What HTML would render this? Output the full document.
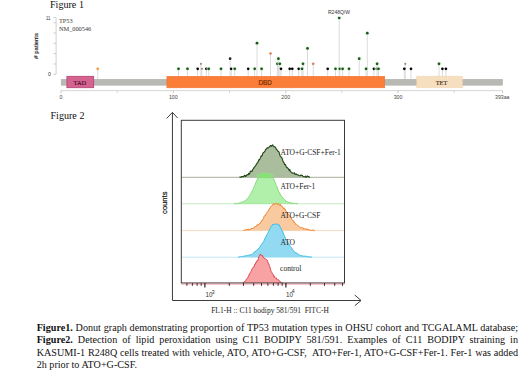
<!DOCTYPE html>
<html><head><meta charset="utf-8"><style>
html,body{margin:0;padding:0;background:#fff;}
body{width:520px;height:371px;overflow:hidden;position:relative;}
.fig{position:absolute;font-family:"Liberation Serif",serif;font-size:10.1px;color:#111;line-height:1;white-space:nowrap;}
svg{position:absolute;left:0;top:0;}
.cap{position:absolute;left:36.7px;top:322.4px;width:481.3px;font-family:"Liberation Serif",serif;font-size:10.15px;line-height:12.1px;color:#111;text-align:justify;}
.cap p{margin:0;text-align:justify;text-align-last:justify;white-space:normal;}
.cap p.last{text-align-last:left;}
b{font-weight:bold;}
</style></head><body>
<div class="fig" style="left:50.0px;top:0.4px;transform:scaleY(1.06);transform-origin:0 0;">Figure 1</div>
<div class="fig" style="left:50.5px;top:111.0px;">Figure 2</div>
<svg width="520" height="371" viewBox="0 0 520 371">
<line x1="56.1" y1="17.5" x2="56.1" y2="74.3" stroke="#c4c4c4" stroke-width="0.8"/>
<line x1="53.3" y1="74.30" x2="56.1" y2="74.30" stroke="#c4c4c4" stroke-width="0.8"/>
<line x1="53.3" y1="63.97" x2="56.1" y2="63.97" stroke="#c4c4c4" stroke-width="0.8"/>
<line x1="53.3" y1="53.64" x2="56.1" y2="53.64" stroke="#c4c4c4" stroke-width="0.8"/>
<line x1="53.3" y1="43.32" x2="56.1" y2="43.32" stroke="#c4c4c4" stroke-width="0.8"/>
<line x1="53.3" y1="32.99" x2="56.1" y2="32.99" stroke="#c4c4c4" stroke-width="0.8"/>
<line x1="53.3" y1="22.66" x2="56.1" y2="22.66" stroke="#c4c4c4" stroke-width="0.8"/>
<line x1="53.3" y1="17.50" x2="56.1" y2="17.50" stroke="#c4c4c4" stroke-width="0.8"/>
<text transform="translate(50.4,19.9) scale(0.8,1)" font-family="Liberation Sans" font-size="5.4" text-anchor="end" fill="#333">11</text>
<text x="50.9" y="76.1" font-family="Liberation Sans" font-size="5.2" text-anchor="end" fill="#333">0</text>
<text transform="translate(37.8,58.7) rotate(-90)" font-family="Liberation Sans" font-size="5.9" fill="#222" stroke="#222" stroke-width="0.15"># patients</text>
<text x="59.0" y="23.0" font-family="Liberation Serif" font-size="6.3" fill="#383838">TP53</text>
<text x="59.0" y="30.8" font-family="Liberation Serif" font-size="6.3" fill="#383838">NM_000546</text>
<line x1="97.7" y1="68.8" x2="97.7" y2="79.3" stroke="#d4d4d4" stroke-width="0.85"/>
<line x1="178.5" y1="68.8" x2="178.5" y2="79.3" stroke="#d4d4d4" stroke-width="0.85"/>
<line x1="187.5" y1="68.8" x2="187.5" y2="79.3" stroke="#d4d4d4" stroke-width="0.85"/>
<line x1="197.7" y1="68.8" x2="197.7" y2="79.3" stroke="#d4d4d4" stroke-width="0.85"/>
<line x1="201.9" y1="68.8" x2="201.9" y2="79.3" stroke="#d4d4d4" stroke-width="0.85"/>
<line x1="200.9" y1="63.8" x2="200.9" y2="79.3" stroke="#d4d4d4" stroke-width="0.85"/>
<line x1="206.3" y1="68.8" x2="206.3" y2="79.3" stroke="#d4d4d4" stroke-width="0.85"/>
<line x1="208.7" y1="68.8" x2="208.7" y2="79.3" stroke="#d4d4d4" stroke-width="0.85"/>
<line x1="221.0" y1="68.8" x2="221.0" y2="79.3" stroke="#d4d4d4" stroke-width="0.85"/>
<line x1="231.2" y1="68.8" x2="231.2" y2="79.3" stroke="#d4d4d4" stroke-width="0.85"/>
<line x1="230.1" y1="58.7" x2="230.1" y2="79.3" stroke="#d4d4d4" stroke-width="0.85"/>
<line x1="234.7" y1="68.8" x2="234.7" y2="79.3" stroke="#d4d4d4" stroke-width="0.85"/>
<line x1="248.2" y1="68.8" x2="248.2" y2="79.3" stroke="#d4d4d4" stroke-width="0.85"/>
<line x1="254.7" y1="68.8" x2="254.7" y2="79.3" stroke="#d4d4d4" stroke-width="0.85"/>
<line x1="257.0" y1="43.2" x2="257.0" y2="79.3" stroke="#d4d4d4" stroke-width="0.85"/>
<line x1="261.6" y1="68.8" x2="261.6" y2="79.3" stroke="#d4d4d4" stroke-width="0.85"/>
<line x1="270.5" y1="53.5" x2="270.5" y2="79.3" stroke="#d4d4d4" stroke-width="0.85"/>
<line x1="278.4" y1="58.7" x2="278.4" y2="79.3" stroke="#d4d4d4" stroke-width="0.85"/>
<line x1="277.4" y1="63.8" x2="277.4" y2="79.3" stroke="#d4d4d4" stroke-width="0.85"/>
<line x1="279.8" y1="63.8" x2="279.8" y2="79.3" stroke="#d4d4d4" stroke-width="0.85"/>
<line x1="281.0" y1="68.8" x2="281.0" y2="79.3" stroke="#d4d4d4" stroke-width="0.85"/>
<line x1="289.7" y1="68.8" x2="289.7" y2="79.3" stroke="#d4d4d4" stroke-width="0.85"/>
<line x1="292.3" y1="68.8" x2="292.3" y2="79.3" stroke="#d4d4d4" stroke-width="0.85"/>
<line x1="298.7" y1="68.8" x2="298.7" y2="79.3" stroke="#d4d4d4" stroke-width="0.85"/>
<line x1="302.0" y1="68.8" x2="302.0" y2="79.3" stroke="#d4d4d4" stroke-width="0.85"/>
<line x1="303.0" y1="63.8" x2="303.0" y2="79.3" stroke="#d4d4d4" stroke-width="0.85"/>
<line x1="307.5" y1="48.4" x2="307.5" y2="79.3" stroke="#d4d4d4" stroke-width="0.85"/>
<line x1="313.2" y1="63.8" x2="313.2" y2="79.3" stroke="#d4d4d4" stroke-width="0.85"/>
<line x1="327.7" y1="68.8" x2="327.7" y2="79.3" stroke="#d4d4d4" stroke-width="0.85"/>
<line x1="335.5" y1="68.8" x2="335.5" y2="79.3" stroke="#d4d4d4" stroke-width="0.85"/>
<line x1="339.2" y1="18.0" x2="339.2" y2="79.3" stroke="#d4d4d4" stroke-width="0.85"/>
<line x1="339.8" y1="68.8" x2="339.8" y2="79.3" stroke="#d4d4d4" stroke-width="0.85"/>
<line x1="342.6" y1="68.8" x2="342.6" y2="79.3" stroke="#d4d4d4" stroke-width="0.85"/>
<line x1="349.0" y1="68.8" x2="349.0" y2="79.3" stroke="#d4d4d4" stroke-width="0.85"/>
<line x1="359.2" y1="58.7" x2="359.2" y2="79.3" stroke="#d4d4d4" stroke-width="0.85"/>
<line x1="366.1" y1="68.8" x2="366.1" y2="79.3" stroke="#d4d4d4" stroke-width="0.85"/>
<line x1="367.3" y1="33.2" x2="367.3" y2="79.3" stroke="#d4d4d4" stroke-width="0.85"/>
<line x1="373.9" y1="68.8" x2="373.9" y2="79.3" stroke="#d4d4d4" stroke-width="0.85"/>
<line x1="377.1" y1="63.8" x2="377.1" y2="79.3" stroke="#d4d4d4" stroke-width="0.85"/>
<line x1="378.5" y1="68.8" x2="378.5" y2="79.3" stroke="#d4d4d4" stroke-width="0.85"/>
<line x1="404.3" y1="68.8" x2="404.3" y2="79.3" stroke="#d4d4d4" stroke-width="0.85"/>
<line x1="405.3" y1="63.8" x2="405.3" y2="79.3" stroke="#d4d4d4" stroke-width="0.85"/>
<line x1="411.0" y1="68.8" x2="411.0" y2="79.3" stroke="#d4d4d4" stroke-width="0.85"/>
<line x1="439.0" y1="63.8" x2="439.0" y2="79.3" stroke="#d4d4d4" stroke-width="0.85"/>
<line x1="442.4" y1="68.8" x2="442.4" y2="79.3" stroke="#d4d4d4" stroke-width="0.85"/>
<line x1="445.9" y1="68.8" x2="445.9" y2="79.3" stroke="#d4d4d4" stroke-width="0.85"/>
<rect x="61.2" y="79.3" width="441.3" height="5.9" fill="#b9b9b4" stroke="#b1b1ab" stroke-width="0.6"/>
<rect x="66.9" y="76.3" width="26.8" height="11.4" fill="#d5628f" stroke="#b04474" stroke-width="0.8"/>
<text x="79.9" y="84.9" font-family="Liberation Serif" font-size="6.4" text-anchor="middle" fill="#3e0c28" stroke="#3e0c28" stroke-width="0.12">TAD</text>
<rect x="166.9" y="76.3" width="217.8" height="11.5" fill="#fa7e38" stroke="#ee7434" stroke-width="0.6"/>
<text x="265.2" y="84.8" font-family="Liberation Sans" font-size="6.3" text-anchor="middle" fill="#7a2a00" stroke="#7a2a00" stroke-width="0.2">DBD</text>
<rect x="416.6" y="76.3" width="46" height="11.4" fill="#f6dfbf" stroke="#efcc9e" stroke-width="0.7" stroke-dasharray="1.2,0.9"/>
<text x="441.5" y="84.9" font-family="Liberation Serif" font-size="6.4" text-anchor="middle" fill="#3a2810" stroke="#3a2810" stroke-width="0.12">TET</text>
<line x1="60.6" y1="90.6" x2="502.6" y2="90.6" stroke="#cbcbcb" stroke-width="0.8"/>
<line x1="61.0" y1="90.6" x2="61.0" y2="93.2" stroke="#bdbdbd" stroke-width="0.8"/>
<line x1="173.3" y1="90.6" x2="173.3" y2="93.2" stroke="#bdbdbd" stroke-width="0.8"/>
<line x1="285.7" y1="90.6" x2="285.7" y2="93.2" stroke="#bdbdbd" stroke-width="0.8"/>
<line x1="398.0" y1="90.6" x2="398.0" y2="93.2" stroke="#bdbdbd" stroke-width="0.8"/>
<line x1="502.5" y1="90.6" x2="502.5" y2="93.2" stroke="#bdbdbd" stroke-width="0.8"/>
<line x1="117.2" y1="90.6" x2="117.2" y2="93" stroke="#c8c8c8" stroke-width="0.7"/>
<line x1="229.5" y1="90.6" x2="229.5" y2="93" stroke="#c8c8c8" stroke-width="0.7"/>
<line x1="341.8" y1="90.6" x2="341.8" y2="93" stroke="#c8c8c8" stroke-width="0.7"/>
<line x1="454.2" y1="90.6" x2="454.2" y2="93" stroke="#c8c8c8" stroke-width="0.7"/>
<text x="61.0" y="99.0" font-family="Liberation Sans" font-size="5.2" text-anchor="middle" fill="#444">0</text>
<text x="173.3" y="99.0" font-family="Liberation Sans" font-size="5.2" text-anchor="middle" fill="#444">100</text>
<text x="285.7" y="99.0" font-family="Liberation Sans" font-size="5.2" text-anchor="middle" fill="#444">200</text>
<text x="398.0" y="99.0" font-family="Liberation Sans" font-size="5.2" text-anchor="middle" fill="#444">300</text>
<text x="495.0" y="99.0" font-family="Liberation Sans" font-size="5.2" fill="#444">393aa</text>
<circle cx="97.7" cy="68.8" r="1.35" fill="#e8a030"/>
<circle cx="178.5" cy="68.8" r="2.4" fill="#dff5df" opacity="0.7"/>
<circle cx="178.5" cy="68.8" r="1.35" fill="#1b561b"/>
<circle cx="187.5" cy="68.8" r="2.4" fill="#dff5df" opacity="0.7"/>
<circle cx="187.5" cy="68.8" r="1.35" fill="#1b561b"/>
<circle cx="197.7" cy="68.8" r="1.35" fill="#050505"/>
<circle cx="201.9" cy="68.8" r="1.1" fill="#a88a6a"/>
<circle cx="200.9" cy="63.8" r="1.1" fill="#a88a6a"/>
<circle cx="206.3" cy="68.8" r="1.35" fill="#050505"/>
<circle cx="208.7" cy="68.8" r="2.4" fill="#dff5df" opacity="0.7"/>
<circle cx="208.7" cy="68.8" r="1.35" fill="#1b561b"/>
<circle cx="221.0" cy="68.8" r="2.4" fill="#dff5df" opacity="0.7"/>
<circle cx="221.0" cy="68.8" r="1.35" fill="#1b561b"/>
<circle cx="231.2" cy="68.8" r="1.35" fill="#050505"/>
<circle cx="230.1" cy="58.7" r="1.35" fill="#1a2a1a"/>
<circle cx="234.7" cy="68.8" r="2.4" fill="#dff5df" opacity="0.7"/>
<circle cx="234.7" cy="68.8" r="1.35" fill="#1b561b"/>
<circle cx="248.2" cy="68.8" r="1.35" fill="#050505"/>
<circle cx="254.7" cy="68.8" r="2.4" fill="#dff5df" opacity="0.7"/>
<circle cx="254.7" cy="68.8" r="1.35" fill="#1b561b"/>
<circle cx="257.0" cy="43.2" r="2.4" fill="#dff5df" opacity="0.7"/>
<circle cx="257.0" cy="43.2" r="1.35" fill="#1b561b"/>
<circle cx="261.6" cy="68.8" r="2.4" fill="#dff5df" opacity="0.7"/>
<circle cx="261.6" cy="68.8" r="1.35" fill="#1b561b"/>
<circle cx="270.5" cy="53.5" r="1.35" fill="#e0825a"/>
<circle cx="278.4" cy="58.7" r="2.4" fill="#dff5df" opacity="0.7"/>
<circle cx="278.4" cy="58.7" r="1.35" fill="#1b561b"/>
<circle cx="277.4" cy="63.8" r="2.4" fill="#dff5df" opacity="0.7"/>
<circle cx="277.4" cy="63.8" r="1.35" fill="#1b561b"/>
<circle cx="279.8" cy="63.8" r="2.4" fill="#dff5df" opacity="0.7"/>
<circle cx="279.8" cy="63.8" r="1.35" fill="#1b561b"/>
<circle cx="281.0" cy="68.8" r="1.35" fill="#050505"/>
<circle cx="289.7" cy="68.8" r="1.35" fill="#050505"/>
<circle cx="292.3" cy="68.8" r="1.35" fill="#050505"/>
<circle cx="298.7" cy="68.8" r="1.35" fill="#050505"/>
<circle cx="302.0" cy="68.8" r="2.4" fill="#dff5df" opacity="0.7"/>
<circle cx="302.0" cy="68.8" r="1.35" fill="#1b561b"/>
<circle cx="303.0" cy="63.8" r="2.4" fill="#dff5df" opacity="0.7"/>
<circle cx="303.0" cy="63.8" r="1.35" fill="#1b561b"/>
<circle cx="307.5" cy="48.4" r="2.4" fill="#dff5df" opacity="0.7"/>
<circle cx="307.5" cy="48.4" r="1.35" fill="#1b561b"/>
<circle cx="313.2" cy="63.8" r="1.35" fill="#e0825a"/>
<circle cx="327.7" cy="68.8" r="1.35" fill="#050505"/>
<circle cx="335.5" cy="68.8" r="2.4" fill="#dff5df" opacity="0.7"/>
<circle cx="335.5" cy="68.8" r="1.35" fill="#1b561b"/>
<circle cx="339.2" cy="18.0" r="2.4" fill="#dff5df" opacity="0.7"/>
<circle cx="339.2" cy="18.0" r="1.35" fill="#1b561b"/>
<circle cx="339.8" cy="68.8" r="2.4" fill="#dff5df" opacity="0.7"/>
<circle cx="339.8" cy="68.8" r="1.35" fill="#1b561b"/>
<circle cx="342.6" cy="68.8" r="2.4" fill="#dff5df" opacity="0.7"/>
<circle cx="342.6" cy="68.8" r="1.35" fill="#1b561b"/>
<circle cx="349.0" cy="68.8" r="2.4" fill="#dff5df" opacity="0.7"/>
<circle cx="349.0" cy="68.8" r="1.35" fill="#1b561b"/>
<circle cx="359.2" cy="58.7" r="2.4" fill="#dff5df" opacity="0.7"/>
<circle cx="359.2" cy="58.7" r="1.35" fill="#1b561b"/>
<circle cx="366.1" cy="68.8" r="2.4" fill="#dff5df" opacity="0.7"/>
<circle cx="366.1" cy="68.8" r="1.35" fill="#1b561b"/>
<circle cx="367.3" cy="33.2" r="2.4" fill="#dff5df" opacity="0.7"/>
<circle cx="367.3" cy="33.2" r="1.35" fill="#1b561b"/>
<circle cx="373.9" cy="68.8" r="1.35" fill="#050505"/>
<circle cx="376.8" cy="68.8" r="2.4" fill="#dff5df" opacity="0.7"/>
<circle cx="376.8" cy="68.8" r="1.35" fill="#1b561b"/>
<circle cx="378.5" cy="68.8" r="2.4" fill="#dff5df" opacity="0.7"/>
<circle cx="378.5" cy="68.8" r="1.35" fill="#1b561b"/>
<circle cx="377.1" cy="63.8" r="2.4" fill="#dff5df" opacity="0.7"/>
<circle cx="377.1" cy="63.8" r="1.35" fill="#1b561b"/>
<circle cx="404.3" cy="68.8" r="1.35" fill="#050505"/>
<circle cx="405.3" cy="63.8" r="1.1" fill="#a88a6a"/>
<circle cx="411.0" cy="68.8" r="1.35" fill="#050505"/>
<circle cx="439.0" cy="63.8" r="2.4" fill="#dff5df" opacity="0.7"/>
<circle cx="439.0" cy="63.8" r="1.35" fill="#1b561b"/>
<circle cx="442.4" cy="68.8" r="1.35" fill="#050505"/>
<circle cx="445.9" cy="68.8" r="1.35" fill="#050505"/>
<text x="328" y="13.8" font-family="Liberation Sans" font-size="5" fill="#333">R248Q/W</text>
<line x1="181.3" y1="177.3" x2="344.3" y2="177.3" stroke="#a9b19c" stroke-width="1"/>
<path d="M239.5,177.3 L240.0,177.0 L240.5,177.4 L241.0,177.3 L241.5,176.5 L242.0,176.8 L242.6,176.5 L243.1,176.7 L243.7,176.8 L244.3,175.4 L244.8,175.2 L245.4,176.4 L246.0,175.5 L246.5,175.9 L247.1,174.5 L247.6,174.7 L248.2,174.7 L248.7,173.3 L249.3,174.1 L249.8,173.5 L250.3,171.5 L250.9,171.0 L251.4,171.4 L252.0,171.5 L252.5,170.1 L253.0,169.1 L253.5,168.7 L254.1,167.3 L254.6,166.8 L255.1,166.5 L255.6,165.8 L256.2,164.6 L256.7,163.9 L257.2,163.1 L257.8,162.5 L258.3,161.1 L258.9,159.6 L259.5,159.9 L260.1,158.4 L260.6,157.5 L261.2,155.7 L261.7,156.2 L262.3,155.2 L262.8,153.1 L263.4,152.6 L263.9,152.5 L264.5,151.6 L265.0,151.1 L265.6,149.4 L266.2,149.3 L266.7,148.7 L267.2,147.7 L267.8,147.8 L268.3,148.0 L268.8,147.6 L269.3,146.7 L269.9,146.6 L270.4,145.5 L271.0,145.6 L271.6,146.3 L272.1,145.5 L272.7,144.8 L273.2,145.9 L273.8,146.5 L274.3,146.9 L274.9,146.8 L275.4,147.3 L275.9,148.2 L276.5,149.5 L277.0,149.8 L277.6,150.4 L278.1,151.4 L278.7,151.6 L279.2,152.7 L279.8,154.8 L280.3,156.3 L280.8,156.6 L281.4,157.3 L282.0,158.1 L282.5,159.7 L283.1,161.7 L283.7,162.4 L284.2,163.2 L284.8,164.8 L285.4,164.5 L285.9,165.8 L286.5,167.3 L287.1,167.5 L287.6,168.0 L288.2,168.5 L288.7,169.4 L289.2,170.6 L289.8,169.4 L290.3,171.2 L290.8,171.7 L291.3,172.3 L291.9,172.5 L292.4,173.1 L292.9,173.0 L293.4,173.3 L294.0,173.3 L294.5,172.9 L295.1,174.5 L295.6,174.3 L296.1,173.9 L296.7,174.6 L297.2,174.8 L297.8,174.8 L298.3,175.0 L298.9,175.5 L299.4,175.7 L300.0,175.8 L300.5,175.6 L301.1,175.0 L301.6,175.4 L302.2,175.4 L302.8,176.2 L303.3,176.7 L303.9,176.7 L304.4,176.8 L305.0,176.9 L305.6,176.1 L306.1,177.2 L306.7,177.0 L307.2,176.1 L307.8,176.1 L308.3,176.4 L308.9,177.3 L309.4,177.1 L310.0,177.3 Z" fill="#aabd9c" stroke="none"/>
<path d="M239.5,177.3 L240.0,177.0 L240.5,177.4 L241.0,177.3 L241.5,176.5 L242.0,176.8 L242.6,176.5 L243.1,176.7 L243.7,176.8 L244.3,175.4 L244.8,175.2 L245.4,176.4 L246.0,175.5 L246.5,175.9 L247.1,174.5 L247.6,174.7 L248.2,174.7 L248.7,173.3 L249.3,174.1 L249.8,173.5 L250.3,171.5 L250.9,171.0 L251.4,171.4 L252.0,171.5 L252.5,170.1 L253.0,169.1 L253.5,168.7 L254.1,167.3 L254.6,166.8 L255.1,166.5 L255.6,165.8 L256.2,164.6 L256.7,163.9 L257.2,163.1 L257.8,162.5 L258.3,161.1 L258.9,159.6 L259.5,159.9 L260.1,158.4 L260.6,157.5 L261.2,155.7 L261.7,156.2 L262.3,155.2 L262.8,153.1 L263.4,152.6 L263.9,152.5 L264.5,151.6 L265.0,151.1 L265.6,149.4 L266.2,149.3 L266.7,148.7 L267.2,147.7 L267.8,147.8 L268.3,148.0 L268.8,147.6 L269.3,146.7 L269.9,146.6 L270.4,145.5 L271.0,145.6 L271.6,146.3 L272.1,145.5 L272.7,144.8 L273.2,145.9 L273.8,146.5 L274.3,146.9 L274.9,146.8 L275.4,147.3 L275.9,148.2 L276.5,149.5 L277.0,149.8 L277.6,150.4 L278.1,151.4 L278.7,151.6 L279.2,152.7 L279.8,154.8 L280.3,156.3 L280.8,156.6 L281.4,157.3 L282.0,158.1 L282.5,159.7 L283.1,161.7 L283.7,162.4 L284.2,163.2 L284.8,164.8 L285.4,164.5 L285.9,165.8 L286.5,167.3 L287.1,167.5 L287.6,168.0 L288.2,168.5 L288.7,169.4 L289.2,170.6 L289.8,169.4 L290.3,171.2 L290.8,171.7 L291.3,172.3 L291.9,172.5 L292.4,173.1 L292.9,173.0 L293.4,173.3 L294.0,173.3 L294.5,172.9 L295.1,174.5 L295.6,174.3 L296.1,173.9 L296.7,174.6 L297.2,174.8 L297.8,174.8 L298.3,175.0 L298.9,175.5 L299.4,175.7 L300.0,175.8 L300.5,175.6 L301.1,175.0 L301.6,175.4 L302.2,175.4 L302.8,176.2 L303.3,176.7 L303.9,176.7 L304.4,176.8 L305.0,176.9 L305.6,176.1 L306.1,177.2 L306.7,177.0 L307.2,176.1 L307.8,176.1 L308.3,176.4 L308.9,177.3 L309.4,177.1 L310.0,177.3" fill="none" stroke="#1f4416" stroke-width="1.1" stroke-linejoin="round"/>
<line x1="181.3" y1="203.8" x2="344.3" y2="203.8" stroke="#c6ecc2" stroke-width="1"/>
<defs><clipPath id="cg"><rect x="181" y="177.6" width="164" height="40"/></clipPath><radialGradient id="gg" cx="0.5" cy="0.5" r="0.5"><stop offset="0" stop-color="#6ef05a" stop-opacity="0.95"/><stop offset="0.6" stop-color="#86ec74" stop-opacity="0.6"/><stop offset="1" stop-color="#9ee890" stop-opacity="0"/></radialGradient></defs>
<g clip-path="url(#cg)"><path d="M234.0,203.8 L234.6,203.8 L235.1,203.9 L235.7,203.4 L236.3,203.3 L236.9,203.8 L237.4,203.7 L238.0,203.6 L238.5,203.2 L239.1,203.1 L239.6,202.9 L240.2,202.7 L240.7,202.2 L241.3,202.2 L241.8,201.9 L242.4,201.9 L242.9,201.9 L243.5,201.7 L244.0,201.2 L244.6,200.9 L245.1,200.6 L245.7,200.2 L246.2,200.0 L246.8,199.5 L247.3,198.6 L247.9,197.9 L248.5,197.5 L249.1,196.5 L249.6,195.7 L250.2,194.7 L250.8,193.5 L251.3,192.5 L251.9,191.3 L252.5,190.4 L253.0,189.7 L253.6,188.3 L254.1,186.6 L254.6,185.8 L255.2,184.4 L255.7,183.0 L256.2,181.8 L256.7,180.5 L257.2,179.3 L257.8,177.8 L258.3,177.0 L258.9,176.3 L259.4,175.1 L259.9,174.9 L260.5,174.2 L261.1,173.9 L261.7,173.8 L262.3,173.6 L262.9,173.8 L263.5,173.4 L264.1,173.6 L264.6,173.3 L265.2,173.7 L265.8,173.7 L266.4,173.4 L266.9,173.4 L267.5,173.7 L268.1,173.8 L268.7,173.8 L269.3,173.9 L269.9,174.2 L270.5,174.6 L271.0,174.8 L271.5,175.9 L272.1,176.1 L272.6,177.1 L273.1,177.3 L273.6,179.1 L274.2,180.3 L274.7,181.5 L275.3,182.9 L275.8,184.3 L276.3,185.6 L276.9,186.7 L277.4,188.0 L278.0,189.6 L278.5,191.2 L279.1,192.0 L279.6,192.6 L280.1,194.1 L280.7,195.1 L281.2,196.2 L281.8,196.7 L282.3,197.6 L282.8,197.6 L283.4,198.6 L283.9,198.8 L284.4,199.3 L284.9,200.3 L285.5,200.3 L286.0,201.1 L286.5,201.8 L287.1,201.6 L287.6,201.7 L288.2,202.3 L288.8,202.2 L289.3,202.5 L289.9,202.2 L290.5,202.6 L291.0,202.6 L291.6,203.1 L292.2,202.9 L292.7,203.7 L293.3,203.2 L293.8,203.7 L294.3,203.2 L294.9,203.4 L295.4,203.9 L295.9,203.4 L296.4,203.5 L297.0,203.8 L297.5,203.7 L298.0,203.8 Z" fill="rgba(40,214,20,0.36)" stroke="none"/><path d="M234.0,203.8 L234.6,203.8 L235.1,203.9 L235.7,203.4 L236.3,203.3 L236.9,203.8 L237.4,203.7 L238.0,203.6 L238.5,203.2 L239.1,203.1 L239.6,202.9 L240.2,202.7 L240.7,202.2 L241.3,202.2 L241.8,201.9 L242.4,201.9 L242.9,201.9 L243.5,201.7 L244.0,201.2 L244.6,200.9 L245.1,200.6 L245.7,200.2 L246.2,200.0 L246.8,199.5 L247.3,198.6 L247.9,197.9 L248.5,197.5 L249.1,196.5 L249.6,195.7 L250.2,194.7 L250.8,193.5 L251.3,192.5 L251.9,191.3 L252.5,190.4 L253.0,189.7 L253.6,188.3 L254.1,186.6 L254.6,185.8 L255.2,184.4 L255.7,183.0 L256.2,181.8 L256.7,180.5 L257.2,179.3 L257.8,177.8 L258.3,177.0 L258.9,176.3 L259.4,175.1 L259.9,174.9 L260.5,174.2 L261.1,173.9 L261.7,173.8 L262.3,173.6 L262.9,173.8 L263.5,173.4 L264.1,173.6 L264.6,173.3 L265.2,173.7 L265.8,173.7 L266.4,173.4 L266.9,173.4 L267.5,173.7 L268.1,173.8 L268.7,173.8 L269.3,173.9 L269.9,174.2 L270.5,174.6 L271.0,174.8 L271.5,175.9 L272.1,176.1 L272.6,177.1 L273.1,177.3 L273.6,179.1 L274.2,180.3 L274.7,181.5 L275.3,182.9 L275.8,184.3 L276.3,185.6 L276.9,186.7 L277.4,188.0 L278.0,189.6 L278.5,191.2 L279.1,192.0 L279.6,192.6 L280.1,194.1 L280.7,195.1 L281.2,196.2 L281.8,196.7 L282.3,197.6 L282.8,197.6 L283.4,198.6 L283.9,198.8 L284.4,199.3 L284.9,200.3 L285.5,200.3 L286.0,201.1 L286.5,201.8 L287.1,201.6 L287.6,201.7 L288.2,202.3 L288.8,202.2 L289.3,202.5 L289.9,202.2 L290.5,202.6 L291.0,202.6 L291.6,203.1 L292.2,202.9 L292.7,203.7 L293.3,203.2 L293.8,203.7 L294.3,203.2 L294.9,203.4 L295.4,203.9 L295.9,203.4 L296.4,203.5 L297.0,203.8 L297.5,203.7 L298.0,203.8" fill="none" stroke="#78d46e" stroke-width="0.85" stroke-linejoin="round"/></g>
<ellipse cx="265" cy="175.6" rx="11" ry="3.6" fill="url(#gg)"/>
<line x1="181.3" y1="230.6" x2="344.3" y2="230.6" stroke="#f7d9c2" stroke-width="1"/>
<path d="M243.0,230.6 L243.5,230.4 L244.1,230.4 L244.6,230.1 L245.2,230.3 L245.7,230.3 L246.2,229.3 L246.8,229.1 L247.3,230.2 L247.8,229.3 L248.4,229.1 L248.9,230.2 L249.5,229.3 L250.0,229.7 L250.6,228.9 L251.1,228.9 L251.7,227.9 L252.2,228.4 L252.8,228.5 L253.3,227.8 L253.9,227.9 L254.4,227.5 L255.0,226.3 L255.6,227.0 L256.1,226.3 L256.7,225.4 L257.3,224.6 L257.9,225.4 L258.4,224.4 L259.0,224.3 L259.5,224.0 L260.0,223.2 L260.5,223.0 L261.0,221.6 L261.6,221.3 L262.2,219.9 L262.8,219.7 L263.4,218.7 L264.0,216.6 L264.5,215.9 L265.0,215.2 L265.5,215.5 L266.0,213.9 L266.5,213.4 L267.1,212.2 L267.7,211.7 L268.3,210.8 L268.9,209.6 L269.4,208.9 L270.0,207.7 L270.5,207.4 L271.1,206.3 L271.6,205.8 L272.1,205.3 L272.5,205.1 L273.0,204.3 L273.5,203.4 L274.0,204.3 L274.5,204.4 L275.0,204.2 L275.5,203.8 L276.0,204.1 L276.5,203.4 L277.0,204.4 L277.5,204.1 L278.1,203.9 L278.7,203.7 L279.2,205.1 L279.8,205.5 L280.4,204.4 L280.9,206.0 L281.5,205.9 L282.0,206.0 L282.5,206.7 L283.0,207.9 L283.5,208.6 L284.0,207.8 L284.5,209.2 L285.0,209.0 L285.5,210.6 L286.0,210.7 L286.5,212.2 L287.0,213.0 L287.6,213.2 L288.2,214.8 L288.8,214.7 L289.4,215.3 L290.0,216.9 L290.6,216.9 L291.2,218.0 L291.8,219.2 L292.4,220.3 L293.0,220.5 L293.6,220.9 L294.2,222.8 L294.8,222.5 L295.3,224.1 L295.9,224.6 L296.5,224.4 L297.1,224.9 L297.7,225.4 L298.2,226.0 L298.8,226.3 L299.4,226.7 L300.0,227.2 L300.6,227.9 L301.1,227.5 L301.7,227.6 L302.2,228.2 L302.8,227.7 L303.3,228.0 L303.9,229.3 L304.4,228.8 L305.0,229.1 L305.6,228.4 L306.1,229.1 L306.7,229.5 L307.2,228.8 L307.8,229.8 L308.3,229.9 L308.9,229.2 L309.4,230.2 L310.0,230.0 L310.6,230.4 L311.1,230.0 L311.7,230.6 L312.2,230.7 L312.8,229.7 L313.3,229.9 L313.9,230.6 L314.4,230.7 L315.0,230.6 Z" fill="#f9c9a0" stroke="none"/>
<path d="M243.0,230.6 L243.5,230.4 L244.1,230.4 L244.6,230.1 L245.2,230.3 L245.7,230.3 L246.2,229.3 L246.8,229.1 L247.3,230.2 L247.8,229.3 L248.4,229.1 L248.9,230.2 L249.5,229.3 L250.0,229.7 L250.6,228.9 L251.1,228.9 L251.7,227.9 L252.2,228.4 L252.8,228.5 L253.3,227.8 L253.9,227.9 L254.4,227.5 L255.0,226.3 L255.6,227.0 L256.1,226.3 L256.7,225.4 L257.3,224.6 L257.9,225.4 L258.4,224.4 L259.0,224.3 L259.5,224.0 L260.0,223.2 L260.5,223.0 L261.0,221.6 L261.6,221.3 L262.2,219.9 L262.8,219.7 L263.4,218.7 L264.0,216.6 L264.5,215.9 L265.0,215.2 L265.5,215.5 L266.0,213.9 L266.5,213.4 L267.1,212.2 L267.7,211.7 L268.3,210.8 L268.9,209.6 L269.4,208.9 L270.0,207.7 L270.5,207.4 L271.1,206.3 L271.6,205.8 L272.1,205.3 L272.5,205.1 L273.0,204.3 L273.5,203.4 L274.0,204.3 L274.5,204.4 L275.0,204.2 L275.5,203.8 L276.0,204.1 L276.5,203.4 L277.0,204.4 L277.5,204.1 L278.1,203.9 L278.7,203.7 L279.2,205.1 L279.8,205.5 L280.4,204.4 L280.9,206.0 L281.5,205.9 L282.0,206.0 L282.5,206.7 L283.0,207.9 L283.5,208.6 L284.0,207.8 L284.5,209.2 L285.0,209.0 L285.5,210.6 L286.0,210.7 L286.5,212.2 L287.0,213.0 L287.6,213.2 L288.2,214.8 L288.8,214.7 L289.4,215.3 L290.0,216.9 L290.6,216.9 L291.2,218.0 L291.8,219.2 L292.4,220.3 L293.0,220.5 L293.6,220.9 L294.2,222.8 L294.8,222.5 L295.3,224.1 L295.9,224.6 L296.5,224.4 L297.1,224.9 L297.7,225.4 L298.2,226.0 L298.8,226.3 L299.4,226.7 L300.0,227.2 L300.6,227.9 L301.1,227.5 L301.7,227.6 L302.2,228.2 L302.8,227.7 L303.3,228.0 L303.9,229.3 L304.4,228.8 L305.0,229.1 L305.6,228.4 L306.1,229.1 L306.7,229.5 L307.2,228.8 L307.8,229.8 L308.3,229.9 L308.9,229.2 L309.4,230.2 L310.0,230.0 L310.6,230.4 L311.1,230.0 L311.7,230.6 L312.2,230.7 L312.8,229.7 L313.3,229.9 L313.9,230.6 L314.4,230.7 L315.0,230.6" fill="none" stroke="#f08028" stroke-width="1.0" stroke-linejoin="round"/>
<line x1="181.3" y1="257.2" x2="344.3" y2="257.2" stroke="#c2e7f6" stroke-width="1"/>
<path d="M238.0,257.2 L238.5,257.1 L239.1,256.9 L239.6,256.9 L240.2,256.7 L240.7,256.6 L241.3,256.7 L241.8,256.8 L242.4,256.7 L242.9,256.6 L243.5,256.2 L244.0,256.3 L244.5,256.1 L245.1,255.9 L245.6,255.7 L246.2,255.6 L246.7,255.8 L247.2,255.7 L247.8,255.5 L248.3,255.4 L248.9,254.9 L249.4,254.9 L249.9,254.9 L250.5,254.8 L251.0,254.7 L251.6,254.6 L252.1,254.1 L252.7,253.9 L253.2,253.4 L253.8,252.8 L254.3,252.1 L254.9,251.8 L255.4,251.1 L256.0,251.0 L256.6,250.5 L257.1,249.8 L257.7,249.2 L258.2,249.0 L258.8,248.3 L259.3,247.7 L259.9,247.0 L260.4,246.0 L260.9,245.2 L261.5,244.6 L262.0,243.7 L262.5,242.8 L263.1,242.2 L263.6,241.7 L264.2,240.2 L264.7,239.0 L265.2,238.2 L265.8,236.9 L266.3,235.9 L266.9,234.8 L267.4,233.6 L268.0,232.9 L268.5,231.4 L269.1,230.4 L269.6,229.3 L270.1,228.5 L270.7,227.4 L271.2,226.5 L271.8,225.8 L272.3,224.6 L272.9,224.6 L273.4,224.7 L274.0,224.2 L274.6,224.1 L275.2,224.1 L275.7,224.2 L276.3,224.1 L276.9,224.1 L277.5,224.3 L278.0,224.4 L278.6,224.8 L279.2,224.8 L279.8,226.1 L280.3,227.3 L280.9,228.3 L281.4,229.3 L281.9,230.4 L282.5,231.0 L283.1,232.6 L283.7,234.4 L284.3,235.7 L284.9,237.0 L285.5,238.7 L286.1,239.5 L286.6,240.5 L287.2,241.2 L287.8,242.1 L288.3,243.2 L288.9,243.9 L289.4,245.0 L290.0,246.2 L290.6,246.7 L291.1,247.3 L291.7,248.0 L292.2,248.8 L292.8,249.9 L293.4,250.4 L293.9,251.1 L294.5,251.8 L295.0,252.6 L295.6,252.6 L296.1,252.8 L296.7,253.1 L297.2,253.4 L297.8,253.8 L298.3,254.4 L298.9,254.4 L299.4,254.7 L300.0,255.3 L300.5,255.5 L301.0,255.9 L301.6,255.6 L302.1,255.8 L302.7,256.0 L303.2,255.9 L303.8,256.3 L304.3,256.1 L304.9,256.1 L305.4,256.2 L306.0,256.1 L306.5,256.4 L307.1,256.4 L307.6,256.8 L308.2,256.8 L308.7,256.7 L309.3,256.6 L309.8,256.8 L310.4,256.9 L310.9,257.0 L311.5,257.1 L312.0,257.2 Z" fill="#92daf2" stroke="none"/>
<path d="M238.0,257.2 L238.5,257.1 L239.1,256.9 L239.6,256.9 L240.2,256.7 L240.7,256.6 L241.3,256.7 L241.8,256.8 L242.4,256.7 L242.9,256.6 L243.5,256.2 L244.0,256.3 L244.5,256.1 L245.1,255.9 L245.6,255.7 L246.2,255.6 L246.7,255.8 L247.2,255.7 L247.8,255.5 L248.3,255.4 L248.9,254.9 L249.4,254.9 L249.9,254.9 L250.5,254.8 L251.0,254.7 L251.6,254.6 L252.1,254.1 L252.7,253.9 L253.2,253.4 L253.8,252.8 L254.3,252.1 L254.9,251.8 L255.4,251.1 L256.0,251.0 L256.6,250.5 L257.1,249.8 L257.7,249.2 L258.2,249.0 L258.8,248.3 L259.3,247.7 L259.9,247.0 L260.4,246.0 L260.9,245.2 L261.5,244.6 L262.0,243.7 L262.5,242.8 L263.1,242.2 L263.6,241.7 L264.2,240.2 L264.7,239.0 L265.2,238.2 L265.8,236.9 L266.3,235.9 L266.9,234.8 L267.4,233.6 L268.0,232.9 L268.5,231.4 L269.1,230.4 L269.6,229.3 L270.1,228.5 L270.7,227.4 L271.2,226.5 L271.8,225.8 L272.3,224.6 L272.9,224.6 L273.4,224.7 L274.0,224.2 L274.6,224.1 L275.2,224.1 L275.7,224.2 L276.3,224.1 L276.9,224.1 L277.5,224.3 L278.0,224.4 L278.6,224.8 L279.2,224.8 L279.8,226.1 L280.3,227.3 L280.9,228.3 L281.4,229.3 L281.9,230.4 L282.5,231.0 L283.1,232.6 L283.7,234.4 L284.3,235.7 L284.9,237.0 L285.5,238.7 L286.1,239.5 L286.6,240.5 L287.2,241.2 L287.8,242.1 L288.3,243.2 L288.9,243.9 L289.4,245.0 L290.0,246.2 L290.6,246.7 L291.1,247.3 L291.7,248.0 L292.2,248.8 L292.8,249.9 L293.4,250.4 L293.9,251.1 L294.5,251.8 L295.0,252.6 L295.6,252.6 L296.1,252.8 L296.7,253.1 L297.2,253.4 L297.8,253.8 L298.3,254.4 L298.9,254.4 L299.4,254.7 L300.0,255.3 L300.5,255.5 L301.0,255.9 L301.6,255.6 L302.1,255.8 L302.7,256.0 L303.2,255.9 L303.8,256.3 L304.3,256.1 L304.9,256.1 L305.4,256.2 L306.0,256.1 L306.5,256.4 L307.1,256.4 L307.6,256.8 L308.2,256.8 L308.7,256.7 L309.3,256.6 L309.8,256.8 L310.4,256.9 L310.9,257.0 L311.5,257.1 L312.0,257.2" fill="none" stroke="#2ab6e2" stroke-width="0.9" stroke-linejoin="round"/>
<line x1="181.3" y1="283.0" x2="344.3" y2="283.0" stroke="#f6c4ca" stroke-width="1"/>
<path d="M242.6,283.0 L243.1,282.6 L243.7,282.3 L244.2,281.9 L244.8,281.7 L245.3,280.9 L245.8,280.6 L246.4,279.0 L247.0,278.6 L247.5,278.2 L248.1,276.8 L248.7,276.1 L249.2,274.1 L249.8,273.6 L250.4,272.3 L250.9,271.6 L251.5,270.6 L252.1,268.9 L252.6,268.1 L253.2,267.2 L253.7,267.1 L254.3,266.0 L254.8,264.2 L255.4,264.1 L255.9,262.3 L256.4,262.3 L256.9,261.0 L257.4,260.1 L257.9,260.6 L258.4,258.2 L258.9,256.7 L259.4,256.2 L259.9,254.6 L260.4,254.2 L260.9,255.3 L261.4,255.1 L261.9,255.6 L262.4,255.5 L262.9,257.0 L263.4,257.1 L263.9,258.0 L264.5,258.5 L265.0,258.3 L265.6,258.9 L266.2,259.2 L266.7,259.8 L267.3,260.2 L267.8,261.7 L268.3,263.3 L268.8,263.7 L269.3,265.7 L269.8,266.8 L270.3,268.3 L270.8,270.5 L271.3,271.6 L271.8,272.3 L272.4,273.5 L272.9,274.7 L273.5,274.8 L274.0,276.9 L274.6,276.2 L275.1,277.7 L275.7,278.4 L276.3,277.9 L276.8,279.4 L277.4,279.4 L278.0,280.1 L278.5,279.8 L279.1,280.3 L279.7,280.9 L280.3,282.3 L280.8,281.9 L281.4,282.8 L281.9,282.9 L282.4,283.0 Z" fill="#f8a2a4" stroke="none"/>
<path d="M242.6,283.0 L243.1,282.6 L243.7,282.3 L244.2,281.9 L244.8,281.7 L245.3,280.9 L245.8,280.6 L246.4,279.0 L247.0,278.6 L247.5,278.2 L248.1,276.8 L248.7,276.1 L249.2,274.1 L249.8,273.6 L250.4,272.3 L250.9,271.6 L251.5,270.6 L252.1,268.9 L252.6,268.1 L253.2,267.2 L253.7,267.1 L254.3,266.0 L254.8,264.2 L255.4,264.1 L255.9,262.3 L256.4,262.3 L256.9,261.0 L257.4,260.1 L257.9,260.6 L258.4,258.2 L258.9,256.7 L259.4,256.2 L259.9,254.6 L260.4,254.2 L260.9,255.3 L261.4,255.1 L261.9,255.6 L262.4,255.5 L262.9,257.0 L263.4,257.1 L263.9,258.0 L264.5,258.5 L265.0,258.3 L265.6,258.9 L266.2,259.2 L266.7,259.8 L267.3,260.2 L267.8,261.7 L268.3,263.3 L268.8,263.7 L269.3,265.7 L269.8,266.8 L270.3,268.3 L270.8,270.5 L271.3,271.6 L271.8,272.3 L272.4,273.5 L272.9,274.7 L273.5,274.8 L274.0,276.9 L274.6,276.2 L275.1,277.7 L275.7,278.4 L276.3,277.9 L276.8,279.4 L277.4,279.4 L278.0,280.1 L278.5,279.8 L279.1,280.3 L279.7,280.9 L280.3,282.3 L280.8,281.9 L281.4,282.8 L281.9,282.9 L282.4,283.0" fill="none" stroke="#d63a42" stroke-width="0.9" stroke-linejoin="round"/>
<rect x="181.3" y="120.3" width="163.2" height="162.7" fill="none" stroke="#3a3a3a" stroke-width="1"/>
<line x1="181.3" y1="284.4" x2="344.3" y2="284.4" stroke="#f7c6cc" stroke-width="1.4"/>
<line x1="186.9" y1="283" x2="186.9" y2="285.8" stroke="#4a2430" stroke-width="1"/>
<line x1="192.4" y1="283" x2="192.4" y2="285.8" stroke="#4a2430" stroke-width="1"/>
<line x1="197.1" y1="283" x2="197.1" y2="285.8" stroke="#4a2430" stroke-width="1"/>
<line x1="201.2" y1="283" x2="201.2" y2="285.8" stroke="#4a2430" stroke-width="1"/>
<line x1="204.9" y1="283" x2="204.9" y2="287.6" stroke="#1a1014" stroke-width="1.1"/>
<line x1="229.3" y1="283" x2="229.3" y2="285.8" stroke="#4a2430" stroke-width="1"/>
<line x1="243.5" y1="283" x2="243.5" y2="285.8" stroke="#4a2430" stroke-width="1"/>
<line x1="253.7" y1="283" x2="253.7" y2="285.8" stroke="#4a2430" stroke-width="1"/>
<line x1="261.5" y1="283" x2="261.5" y2="285.8" stroke="#4a2430" stroke-width="1"/>
<line x1="267.9" y1="283" x2="267.9" y2="285.8" stroke="#4a2430" stroke-width="1"/>
<line x1="273.4" y1="283" x2="273.4" y2="285.8" stroke="#4a2430" stroke-width="1"/>
<line x1="278.1" y1="283" x2="278.1" y2="285.8" stroke="#4a2430" stroke-width="1"/>
<line x1="282.2" y1="283" x2="282.2" y2="285.8" stroke="#4a2430" stroke-width="1"/>
<line x1="285.9" y1="283" x2="285.9" y2="287.6" stroke="#1a1014" stroke-width="1.1"/>
<line x1="310.3" y1="283" x2="310.3" y2="285.8" stroke="#4a2430" stroke-width="1"/>
<line x1="324.5" y1="283" x2="324.5" y2="285.8" stroke="#4a2430" stroke-width="1"/>
<line x1="334.7" y1="283" x2="334.7" y2="285.8" stroke="#4a2430" stroke-width="1"/>
<line x1="342.5" y1="283" x2="342.5" y2="285.8" stroke="#4a2430" stroke-width="1"/>
<text x="205.6" y="297.2" font-family="Liberation Sans" font-size="6.3" fill="#333">10</text>
<text x="211.7" y="293.5" font-family="Liberation Sans" font-size="5.2" fill="#333">3</text>
<text x="285.9" y="297.2" font-family="Liberation Sans" font-size="6.3" fill="#333">10</text>
<text x="291.8" y="293.2" font-family="Liberation Sans" font-size="5.2" fill="#333">4</text>
<path d="M172.45,112.5 L172.45,300.5 L361,300.5" fill="none" stroke="#3c3c3c" stroke-width="1"/>
<path d="M166.6,118.4 L172.45,112.4 L177.6,118.0" fill="none" stroke="#2a2a2a" stroke-width="0.9"/>
<path d="M354.8,295 L361,300.5 L354.8,305.7" fill="none" stroke="#2a2a2a" stroke-width="0.9"/>
<text transform="translate(166.6,213.9) rotate(-90)" font-family="Liberation Sans" font-size="7.6" fill="#111" stroke="#111" stroke-width="0.2">counts</text>
<text x="211.2" y="312.6" font-family="Liberation Serif" font-size="7.5" fill="#222" xml:space="preserve">FL1-H :: C11 bodipy 581/591  FITC-H</text>
<text x="280.6" y="155.0" font-family="Liberation Serif" font-size="7.5" fill="#1a1a1a">ATO+G-CSF+Fer-1</text>
<text x="280.6" y="189.1" font-family="Liberation Serif" font-size="7.5" fill="#1a1a1a">ATO+Fer-1</text>
<text x="280.4" y="217.8" font-family="Liberation Serif" font-size="7.5" fill="#1a1a1a">ATO+G-CSF</text>
<text x="280.6" y="245.3" font-family="Liberation Serif" font-size="7.5" fill="#1a1a1a">ATO</text>
<text x="280.1" y="271.0" font-family="Liberation Serif" font-size="7.5" fill="#1a1a1a">control</text>
</svg>
<div class="cap">
<p><b>Figure1.</b> Donut graph demonstrating proportion of TP53 mutation types in OHSU cohort and TCGALAML database;</p>
<p><b>Figure2.</b> Detection of lipid peroxidation using C11 BODIPY 581/591. Examples of C11 BODIPY straining in</p>
<p>KASUMI-1 R248Q cells treated with vehicle, ATO, ATO+G-CSF,&nbsp; ATO+Fer-1, ATO+G-CSF+Fer-1. Fer-1 was added</p>
<p class="last">2h prior to ATO+G-CSF.</p>
</div>
</body></html>
